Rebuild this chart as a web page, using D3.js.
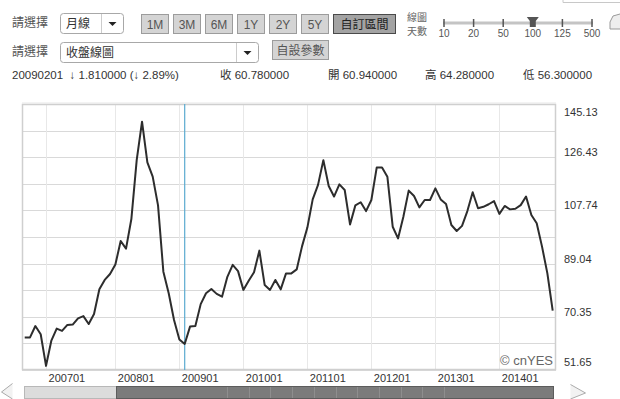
<!DOCTYPE html>
<html>
<head>
<meta charset="utf-8">
<script src="https://cdn.jsdelivr.net/npm/d3@7"></script>
<style>
  html, body { margin: 0; padding: 0; background: #fff; }
  svg { display: block; font-family: "Liberation Sans", Arial, "Noto Sans CJK TC", sans-serif; }
</style>
</head>
<body>
<div id="chart"></div>
<script>
// monthly close, 100 points (the feed has 13 points in 2007)
const values = [
  63.1, 63.1, 67.1, 64.2, 53.1, 62.0, 66.2, 65.4, 67.5, 67.6,
  69.8, 70.6, 67.8, 71.3, 80.0, 83.3, 85.4, 88.7, 97.0, 94.3,
  104.7, 125.4, 138.9, 124.6, 119.6, 109.5, 86.2, 78.6, 69.2, 62.4,
  60.8, 66.9, 67.1, 74.8, 78.6, 80.1, 78.4, 77.4, 84.4, 88.6,
  86.4, 79.8, 83.0, 86.0, 93.6, 81.5, 79.8, 83.3, 80.0, 85.6,
  85.6, 87.0, 95.1, 101.7, 111.6, 116.7, 125.4, 116.3, 112.6, 116.9,
  114.9, 102.8, 109.5, 110.6, 107.5, 111.4, 122.8, 122.8, 119.6, 102.0,
  97.9, 105.5, 114.7, 112.8, 108.8, 111.4, 111.4, 115.5, 111.6, 110.0,
  102.6, 100.5, 102.3, 107.5, 114.1, 108.5, 109.0, 109.9, 111.0, 106.5,
  109.3, 108.1, 108.3, 109.6, 112.6, 106.1, 103.2, 95.0, 85.6, 72.5
];
const xTickIndex = [4, 17, 29, 41, 53, 65, 77, 89];
const xTickLabels = ['200701', '200801', '200901', '201001', '201101', '201201', '201301', '201401'];
const yMin = 51.65, yMax = 145.13, yDivisions = 10;
const cursorIndex = 30;
const rangeButtons = ['1M', '3M', '6M', '1Y', '2Y', '5Y', '自訂區間'];
const sliderStops = ['10', '20', '50', '100', '125', '500'];
const infoItems = [
  { text: '20090201  ↓ 1.810000 (↓ 2.89%)', x: 12 },
  { text: '收 60.780000', x: 220 },
  { text: '開 60.940000', x: 328 },
  { text: '高 64.280000', x: 425 },
  { text: '低 56.300000', x: 523 }
];

const W = 620, H = 399;
const plot = { left: 22, right: 556, top: 104, bottom: 370 };

const svg = d3.select('#chart').append('svg')
    .attr('width', W)
    .attr('height', H);

const cjk = '"Noto Sans CJK TC", "Liberation Sans", sans-serif';

// ---- toolbar row 1
svg.append('text').attr('x', 12).attr('y', 27)
    .style('font-family', cjk).style('font-size', '12px').style('fill', '#555')
    .text('請選擇');

function selectBox(x, y, w, h, label) {
  const g = svg.append('g');
  g.append('rect').attr('x', x + 0.5).attr('y', y + 0.5).attr('width', w).attr('height', h)
      .attr('rx', 3).attr('fill', '#fff').attr('stroke', '#a8a8a8');
  g.append('line').attr('x1', x + w - 21.5).attr('x2', x + w - 21.5)
      .attr('y1', y + 1).attr('y2', y + h).attr('stroke', '#ccc');
  const cx = x + w - 10.5, cy = y + h / 2 + 1;
  g.append('path').attr('d', `M${cx - 4},${cy - 2}L${cx + 4},${cy - 2}L${cx},${cy + 2}Z`).attr('fill', '#222');
  g.append('text').attr('x', x + 6).attr('y', y + h / 2 + 4.5)
      .style('font-family', cjk).style('font-size', '12px').style('fill', '#333')
      .text(label);
}
selectBox(60, 13, 63, 20, '月線');
selectBox(60, 42, 198, 20, '收盤線圖');

svg.append('text').attr('x', 12).attr('y', 56)
    .style('font-family', cjk).style('font-size', '12px').style('fill', '#555')
    .text('請選擇');

// range buttons
const btn = svg.append('g').selectAll('g')
  .data(rangeButtons)
  .enter().append('g')
    .attr('transform', (d, i) => `translate(${141 + i * 32},14)`);
btn.append('rect')
    .attr('x', 0.5).attr('y', 0.5)
    .attr('width', (d, i) => i === rangeButtons.length - 1 ? 62 : 27)
    .attr('height', 19)
    .attr('fill', (d, i) => i === rangeButtons.length - 1 ? '#a3a3a3' : '#d4d4d4')
    .attr('stroke', (d, i) => i === rangeButtons.length - 1 ? '#4a4a4a' : '#9c9c9c');
btn.append('text')
    .attr('x', (d, i) => i === rangeButtons.length - 1 ? 31.5 : 14)
    .attr('y', 14.5)
    .attr('text-anchor', 'middle')
    .style('font-family', (d, i) => i === rangeButtons.length - 1 ? cjk : null)
    .style('font-size', '12px')
    .style('fill', (d, i) => i === rangeButtons.length - 1 ? '#222' : '#555')
    .text(d => d);

// 自設參數 button
svg.append('rect').attr('x', 272.5).attr('y', 40.5).attr('width', 56).attr('height', 19)
    .attr('fill', '#d4d4d4').attr('stroke', '#9c9c9c');
svg.append('text').attr('x', 300.5).attr('y', 55).attr('text-anchor', 'middle')
    .style('font-family', cjk).style('font-size', '12px').style('fill', '#555')
    .text('自設參數');

// 線圖天數 slider
svg.append('text').attr('x', 407).attr('y', 20.5)
    .style('font-family', cjk).style('font-size', '10px').style('fill', '#666').text('線圖');
svg.append('text').attr('x', 407).attr('y', 35)
    .style('font-family', cjk).style('font-size', '10px').style('fill', '#666').text('天數');
const sx = d3.scalePoint().domain(sliderStops).range([444, 592]);
svg.append('line').attr('x1', 443).attr('x2', 593).attr('y1', 23).attr('y2', 23)
    .attr('stroke', '#c4c4c4').attr('stroke-width', 3);
svg.append('g').selectAll('line').data(sliderStops).enter().append('line')
    .attr('x1', d => sx(d)).attr('x2', d => sx(d)).attr('y1', 19).attr('y2', 27)
    .attr('stroke', '#555').attr('stroke-width', 1.5);
svg.append('g').selectAll('text').data(sliderStops).enter().append('text')
    .attr('x', d => sx(d)).attr('y', 37).attr('text-anchor', 'middle')
    .style('font-size', '10px').style('fill', '#555')
    .text(d => d);
const hx = sx('100');
svg.append('path')
    .attr('d', `M${hx - 6},17L${hx + 6},17L${hx + 3},21L${hx + 3},27L${hx - 3},27L${hx - 3},21Z`)
    .attr('fill', '#555');

// top right bits (cropped box + printer icon)
svg.append('path').attr('d', 'M563,0L563,2.5L620,2.5').attr('fill', 'none').attr('stroke', '#c8c8c8');
svg.append('path').attr('d', 'M620,14L613,16L610,22L610,29L620,29')
    .attr('fill', '#eee').attr('stroke', '#999');

// ---- info row
svg.append('g').selectAll('text').data(infoItems).enter().append('text')
    .attr('x', d => d.x).attr('y', 79)
    .style('font-size', '11.5px').style('fill', '#333')
    .style('white-space', 'pre')
    .attr('xml:space', 'preserve')
    .text(d => d.text);

// ---- chart
const x = d3.scaleLinear().domain([0, values.length - 1]).range([24.7, 552.7]);
const y = d3.scaleLinear().domain([yMin, yMax]).range([plot.bottom, plot.top]);
const yTicks = d3.range(yDivisions + 1).map(i => yMin + i * (yMax - yMin) / yDivisions);

svg.append('rect')
    .attr('x', plot.left).attr('y', plot.top)
    .attr('width', plot.right - plot.left).attr('height', plot.bottom - plot.top)
    .attr('fill', '#fff');

// horizontal grid
svg.append('g').selectAll('line').data(yTicks).enter().append('line')
    .attr('x1', plot.left).attr('x2', plot.right)
    .attr('y1', d => Math.round(y(d)) + 0.5).attr('y2', d => Math.round(y(d)) + 0.5)
    .attr('stroke', '#d9d9d9');

// vertical grid
svg.append('g').selectAll('line').data(xTickIndex).enter().append('line')
    .attr('x1', d => Math.round(x(d)) + 0.5).attr('x2', d => Math.round(x(d)) + 0.5)
    .attr('y1', plot.top).attr('y2', plot.bottom)
    .attr('stroke', '#e8e8e8');

// frame
svg.append('rect')
    .attr('x', plot.left + 0.5).attr('y', plot.top + 0.5)
    .attr('width', plot.right - plot.left - 1).attr('height', plot.bottom - plot.top - 1)
    .attr('fill', 'none').attr('stroke', '#cfcfcf').attr('stroke-width', 1.5);
svg.append('line').attr('x1', plot.left).attr('x2', plot.right)
    .attr('y1', plot.top - 1).attr('y2', plot.top - 1).attr('stroke', '#e6e6e6');

// cursor
svg.append('line')
    .attr('x1', x(cursorIndex)).attr('x2', x(cursorIndex))
    .attr('y1', plot.top).attr('y2', plot.bottom)
    .attr('stroke', '#5aaad0').attr('stroke-width', 1.2);

// price line
const line = d3.line()
    .x((d, i) => x(i))
    .y(d => y(d));
svg.append('path')
    .datum(values)
    .attr('d', line)
    .attr('fill', 'none')
    .attr('stroke', '#2d2d2d')
    .attr('stroke-width', 2)
    .attr('stroke-linejoin', 'round');

// y labels (every other grid line)
const yAxis = d3.axisRight(y)
    .tickValues(yTicks.filter((d, i) => i % 2 === 0))
    .tickSize(0)
    .tickFormat(d3.format('.2f'));
const ya = svg.append('g').attr('transform', `translate(${plot.right + 8},0)`).call(yAxis);
ya.select('.domain').remove();
ya.selectAll('text')
    .attr('x', 0)
    .attr('dy', null)
    .attr('y', d => Math.min(Math.max(y(d) - 1.5, plot.top + 11), plot.bottom - 5) - y(d))
    .style('font-family', '"Liberation Sans", Arial, sans-serif')
    .style('font-size', '11px')
    .style('fill', '#333');

// x labels
const xAxis = d3.axisBottom(x)
    .tickValues(xTickIndex)
    .tickSize(0)
    .tickFormat((d, i) => xTickLabels[i]);
const xa = svg.append('g').attr('transform', `translate(0,${plot.bottom})`).call(xAxis);
xa.select('.domain').remove();
xa.selectAll('text')
    .attr('text-anchor', 'start')
    .attr('x', 2)
    .attr('dy', null)
    .attr('y', 12)
    .style('font-family', '"Liberation Sans", Arial, sans-serif')
    .style('font-size', '11px')
    .style('fill', '#333');

// copyright
svg.append('text')
    .attr('x', plot.right - 3).attr('y', 365)
    .attr('text-anchor', 'end')
    .style('font-size', '13px').style('fill', '#666')
    .text('© cnYES');

// ---- navigator bar
svg.append('rect').attr('x', 24.5).attr('y', 386.5).attr('width', 92).attr('height', 12)
    .attr('fill', '#dcdcdc').attr('stroke', '#b8b8b8');
svg.append('rect').attr('x', 116.5).attr('y', 386.5).attr('width', 437).attr('height', 12)
    .attr('fill', '#7b7b7b').attr('stroke', '#5c5c5c');
svg.append('g').selectAll('line').data(d3.range(227, 446, 21.7)).enter().append('line')
    .attr('x1', d => Math.round(d) + 0.5).attr('x2', d => Math.round(d) + 0.5)
    .attr('y1', 387).attr('y2', 398).attr('stroke', '#8e8e8e');
svg.append('path').attr('d', 'M12.5,383.5L1.5,392L12.5,399')
    .attr('fill', '#f2f2f2').attr('stroke', '#aaa');
svg.append('path').attr('d', 'M570.5,384.5L585.5,393L570.5,399')
    .attr('fill', '#f2f2f2').attr('stroke', '#aaa');
</script>
</body>
</html>
